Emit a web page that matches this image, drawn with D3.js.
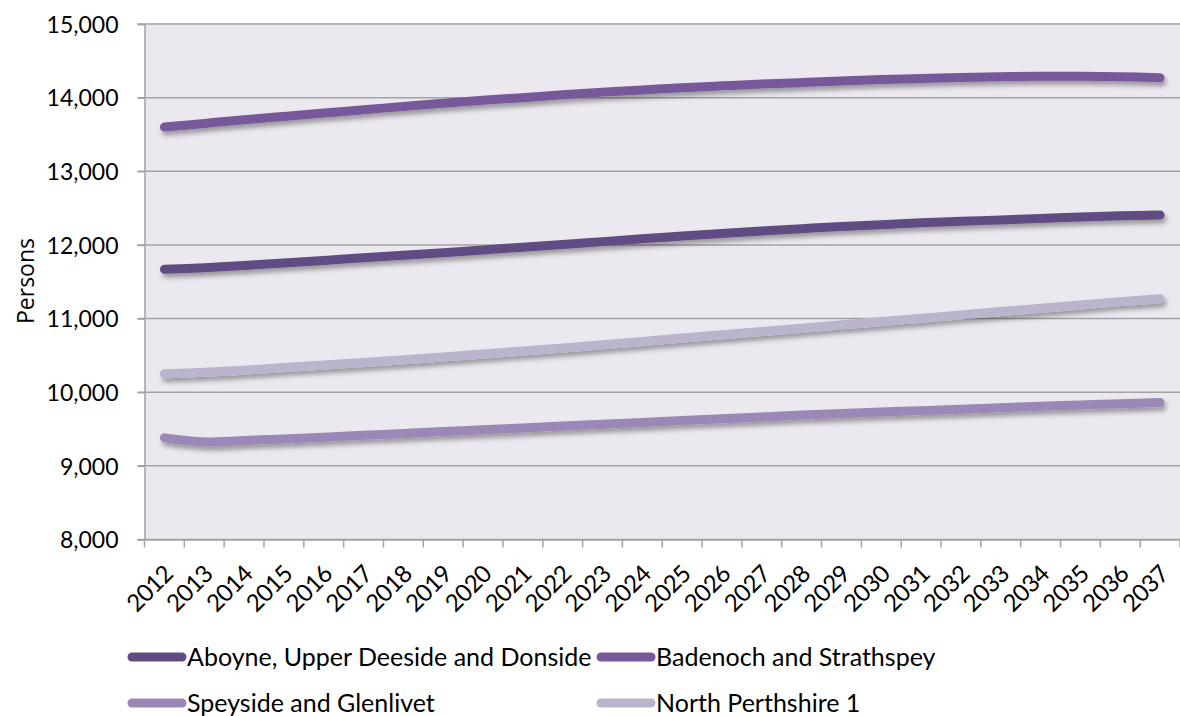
<!DOCTYPE html>
<html><head><meta charset="utf-8">
<script src="https://cdn.jsdelivr.net/npm/d3@7"></script>
<style>body{margin:0;background:#fff;} svg{display:block;font-family:Lato,"Open Sans",sans-serif;}</style>
</head><body>
<svg id="c" width="1180" height="716"></svg>
<script>
const years = d3.range(2012, 2038).map(String);
const seriesNames = ["Aboyne, Upper Deeside and Donside","Badenoch and Strathspey","Speyside and Glenlivet","North Perthshire 1"];
const colors = ["#614c82","#77599a","#9b88b6","#bcb4cd"];
const aboyne = [11670,11690,11720,11755,11790,11825,11860,11895,11930,11970,12005,12045,12085,12120,12155,12190,12220,12250,12275,12300,12320,12340,12360,12380,12395,12405];
const badenoch = [13600,13650,13700,13745,13790,13835,13880,13925,13965,14000,14040,14075,14105,14135,14160,14185,14205,14225,14245,14260,14275,14285,14290,14290,14285,14270];
const speyside = [9380,9325,9345,9365,9390,9415,9440,9465,9490,9515,9540,9565,9590,9615,9640,9665,9690,9710,9730,9750,9770,9790,9810,9825,9845,9860];
const perth = [10250,10270,10300,10335,10370,10405,10440,10480,10520,10560,10600,10645,10690,10735,10780,10825,10870,10915,10960,11005,11050,11095,11140,11185,11230,11270];
const yTicks = [8000,9000,10000,11000,12000,13000,14000,15000];
const allSeries = [aboyne, badenoch, speyside, perth];

const svg = d3.select("#c");
const L=144.5, R=1180, T=24, B=539.5;
const x = d3.scaleBand().domain(years).range([L,R]);
const y = d3.scaleLinear().domain([8000,15000]).range([B,T]);

const defs = svg.append("defs");
const f = defs.append("filter").attr("id","sh").attr("x","-10%").attr("y","-50%").attr("width","120%").attr("height","200%");
f.append("feDropShadow").attr("dx",2).attr("dy",4).attr("stdDeviation",2.5).attr("flood-color","#000").attr("flood-opacity",0.35);

svg.append("rect").attr("x",L).attr("y",T).attr("width",R-L).attr("height",B-T).attr("fill","#ebe9ef");

// gridlines
svg.append("g").selectAll("line").data(yTicks).join("line")
  .attr("x1",L-7).attr("x2",R).attr("y1",d=>y(d)).attr("y2",d=>y(d))
  .attr("stroke","#a3a3a3").attr("stroke-width",1.5);

// y axis
const ya = svg.append("g").attr("transform",`translate(${L},0)`)
  .call(d3.axisLeft(y).tickValues(yTicks).tickFormat(d3.format(",")).tickSize(7).tickPadding(19));
ya.select(".domain").attr("stroke","#a3a3a3").attr("stroke-width",1.5);
ya.selectAll(".tick line").attr("stroke","#a3a3a3").attr("stroke-width",1.5);
ya.selectAll("text").attr("font-size",23).attr("fill","#000").attr("font-family","Lato").attr("dy","0.36em");

// x axis
const xa = svg.append("g").attr("transform",`translate(0,${B})`)
  .call(d3.axisBottom(x).tickSize(0).tickFormat(d=>d));
xa.select(".domain").attr("stroke","#a3a3a3").attr("stroke-width",1.5);
xa.selectAll(".tick line").remove();
xa.append("g").selectAll("line").data(years.concat(["end"])).join("line")
  .attr("x1",(d,i)=>L+i*x.step()).attr("x2",(d,i)=>L+i*x.step())
  .attr("y1",0).attr("y2",8).attr("stroke","#a3a3a3").attr("stroke-width",1.5);
xa.selectAll(".tick text")
  .attr("font-size",24).attr("letter-spacing","-0.6px").attr("fill","#000").attr("font-family","Lato")
  .attr("text-anchor","end").attr("dy",0).attr("y",0)
  .attr("transform","translate(10,36) rotate(-45)");

// axis title
svg.append("text").attr("transform","translate(34,281) rotate(-90)")
  .attr("text-anchor","middle").attr("font-size",23).attr("font-family","'Open Sans'").attr("fill","#000").text("Persons");

// lines
const line = d3.line().x((d,i)=>x(years[i])+x.bandwidth()/2).y(d=>y(d)).curve(d3.curveCatmullRom.alpha(0.5));
const order = [3,2,1,0];
svg.append("g").selectAll("path").data(order).join("path")
  .attr("d",i=>line(allSeries[i])).attr("fill","none")
  .attr("stroke",i=>colors[i]).attr("stroke-width",9).attr("stroke-linecap","round")
  .attr("filter","url(#sh)");

// legend
const legPos = [[128,657],[597,657],[128,703],[597,703]];
const lg = svg.append("g").selectAll("g").data(seriesNames).join("g")
  .attr("transform",(d,i)=>`translate(${legPos[i][0]},${legPos[i][1]})`);
lg.append("line").attr("x1",4).attr("x2",54).attr("y1",0).attr("y2",0)
  .attr("stroke",(d,i)=>colors[i]).attr("stroke-width",9).attr("stroke-linecap","round");
lg.append("text").attr("x",59).attr("y",9).attr("font-size",25).attr("fill","#000").text(d=>d);
</script>
</body></html>
